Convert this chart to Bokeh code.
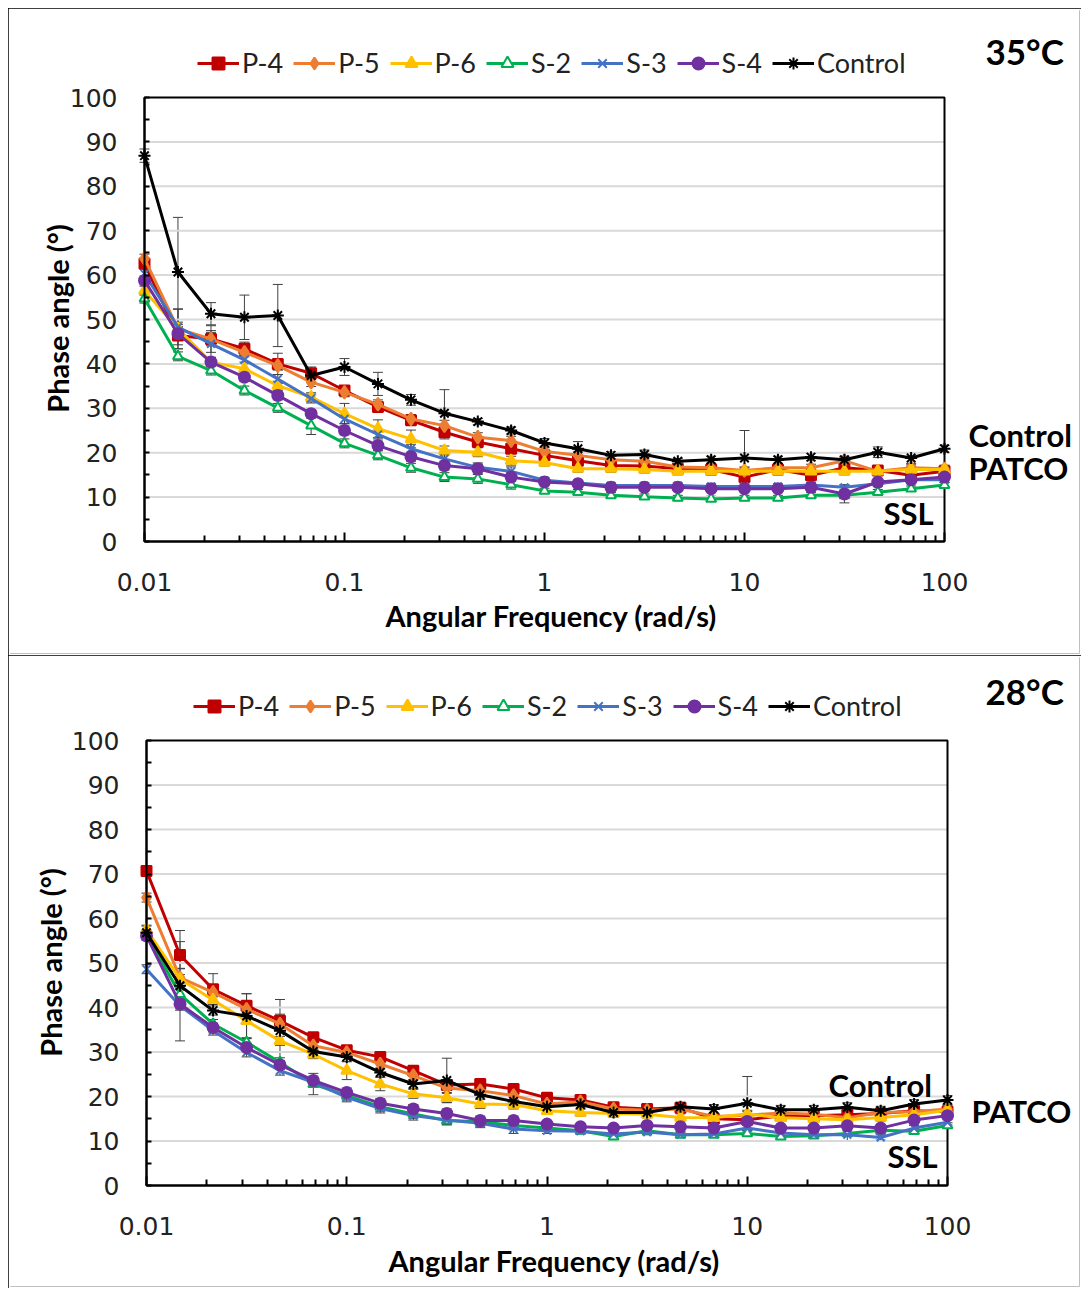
import math
from bokeh.plotting import figure
from bokeh.layouts import column
from bokeh.models import (Range1d, FixedTicker, CustomJSTickFormatter, Legend, LegendItem,
                          Label, Whisker, ColumnDataSource, TeeHead)
from bokeh.embed import file_html
from bokeh.resources import INLINE

# ---------------- data ----------------
freq = [0.01, 0.0147, 0.0215, 0.0316, 0.0464, 0.0681, 0.1, 0.147, 0.215, 0.316, 0.464, 0.681,
        1.0, 1.47, 2.15, 3.16, 4.64, 6.81, 10.0, 14.7, 21.5, 31.6, 46.4, 68.1, 100.0]

series_names = ["P-4", "P-5", "P-6", "S-2", "S-3", "S-4", "Control"]

# 35 C
t35_p4 = [62.6, 46.4, 45.6, 43.4, 40.0, 37.9, 34.0, 30.3, 27.3, 24.6, 22.4, 20.9, 19.4, 18.2, 17.1, 17.0, 16.4, 16.2, 14.5, 16.2, 14.9, 16.6, 16.0, 14.9, 15.8]
t35_p5 = [63.7, 47.9, 45.6, 42.6, 39.6, 35.9, 33.6, 30.9, 27.6, 26.1, 23.5, 22.7, 20.3, 19.4, 18.4, 18.1, 16.8, 16.6, 16.0, 16.6, 16.6, 18.2, 15.8, 16.6, 16.4]
t35_p6 = [56.5, 47.9, 40.4, 38.9, 35.1, 32.5, 28.8, 25.4, 23.1, 20.5, 20.1, 18.2, 17.8, 16.4, 16.4, 16.2, 15.8, 15.8, 15.8, 15.8, 15.8, 15.8, 15.8, 16.2, 16.2]
t35_s2 = [54.7, 41.7, 38.5, 34.0, 30.1, 26.1, 22.1, 19.4, 16.6, 14.5, 14.1, 12.8, 11.4, 11.1, 10.4, 10.1, 9.8, 9.6, 9.8, 9.8, 10.4, 10.4, 11.1, 11.9, 12.7]
t35_s3 = [60.3, 48.3, 44.5, 40.9, 36.6, 32.2, 27.6, 24.1, 20.9, 18.6, 16.7, 15.8, 13.8, 13.2, 12.6, 12.6, 12.6, 12.4, 12.4, 12.4, 12.7, 12.2, 13.0, 13.9, 13.9]
t35_s4 = [58.8, 46.8, 40.4, 37.0, 32.9, 28.8, 25.0, 21.6, 19.1, 17.1, 16.4, 14.5, 13.4, 13.0, 12.2, 12.2, 12.2, 11.9, 11.9, 11.9, 12.2, 10.7, 13.4, 13.9, 14.5]
t35_ctl = [86.9, 60.7, 51.3, 50.5, 50.9, 37.4, 39.3, 35.5, 31.9, 28.9, 27.0, 25.0, 22.2, 20.9, 19.4, 19.6, 18.1, 18.4, 18.8, 18.4, 19.0, 18.4, 20.1, 18.8, 20.9]

e35_p4 = [1.0, 3.0, 1.5, 1.5, 2.4, 1.4, 1.0, 1.0, 1.0, 1.5, 1.0, 1.0, 0.8, 0.8, 0.8, 0.8, 0.8, 0.8, 0.8, 0.8, 0.8, 0.8, 0.8, 0.8, 0.8]
e35_p5 = [1.0, 4.5, 3.0, 1.0, 1.0, 1.0, 1.0, 1.0, 1.0, 1.2, 1.0, 1.0, 0.8, 0.8, 0.8, 0.8, 0.8, 0.8, 0.8, 0.8, 0.8, 0.8, 0.8, 0.8, 0.8]
e35_p6 = [1.0, 1.0, 1.0, 1.5, 1.0, 1.0, 2.3, 2.0, 2.0, 1.0, 1.0, 1.0, 0.8, 0.8, 0.8, 0.8, 0.8, 0.8, 0.8, 0.8, 0.8, 0.8, 0.8, 0.8, 0.8]
e35_s2 = [1.0, 1.0, 1.0, 1.0, 1.0, 2.0, 1.0, 1.0, 1.0, 1.0, 1.0, 1.0, 0.6, 0.6, 0.6, 0.6, 0.6, 0.6, 0.6, 0.6, 0.6, 0.6, 0.6, 0.6, 0.6]
e35_s3 = [1.0, 4.0, 3.0, 1.0, 1.0, 1.0, 1.0, 1.0, 1.0, 1.0, 1.0, 1.0, 0.6, 0.6, 0.6, 0.6, 0.6, 0.6, 0.6, 0.6, 0.6, 0.6, 0.6, 0.6, 0.6]
e35_s4 = [1.0, 1.5, 1.0, 1.0, 1.0, 1.0, 1.0, 1.0, 1.0, 1.0, 1.0, 1.0, 0.6, 0.6, 0.6, 0.6, 0.6, 0.6, 0.6, 0.6, 0.6, 2.0, 0.6, 0.6, 0.6]
e35_ctl = [1.5, 12.3, 2.5, 5.0, 7.0, 1.5, 1.9, 2.6, 1.2, 5.3, 0.7, 0.8, 1.0, 1.6, 0.8, 1.0, 0.6, 0.8, 6.2, 0.8, 0.8, 0.8, 1.2, 1.2, 0.8]

# 28 C
t28_p4 = [70.7, 51.8, 44.1, 40.4, 37.0, 33.3, 30.4, 28.9, 25.8, 22.6, 22.8, 21.7, 19.7, 19.2, 17.6, 17.2, 17.5, 15.0, 14.8, 15.6, 15.7, 15.9, 16.2, 16.8, 16.6]
t28_p5 = [64.7, 46.7, 43.4, 39.6, 36.3, 31.4, 29.9, 27.3, 24.7, 21.9, 21.3, 20.2, 18.3, 18.8, 17.2, 16.9, 17.2, 15.5, 15.8, 16.3, 16.0, 15.2, 16.4, 16.6, 17.2]
t28_p6 = [57.5, 46.4, 41.7, 37.0, 32.5, 29.5, 25.8, 22.8, 20.6, 19.7, 18.3, 18.2, 16.8, 16.4, 16.2, 16.0, 15.3, 15.2, 16.1, 15.2, 15.0, 14.8, 15.3, 15.9, 16.9]
t28_s2 = [56.3, 43.0, 36.3, 32.2, 27.7, 22.8, 20.2, 17.7, 16.1, 14.6, 14.3, 13.5, 12.9, 12.3, 11.0, 12.3, 11.4, 11.4, 11.7, 11.0, 11.2, 11.7, 12.4, 12.2, 13.5]
t28_s3 = [48.6, 40.4, 34.8, 29.9, 25.8, 23.2, 19.8, 17.3, 15.7, 14.7, 14.0, 12.7, 12.3, 12.2, 11.6, 12.0, 11.4, 11.6, 12.9, 11.8, 11.4, 11.4, 10.8, 12.9, 14.2]
t28_s4 = [56.1, 40.8, 35.5, 31.0, 27.1, 23.6, 20.9, 18.5, 17.2, 16.2, 14.6, 14.6, 13.8, 13.2, 12.9, 13.5, 13.2, 12.9, 14.4, 12.9, 12.9, 13.4, 12.9, 14.7, 15.7]
t28_ctl = [56.8, 44.9, 39.3, 38.1, 34.8, 30.1, 28.9, 25.4, 22.8, 23.6, 20.4, 18.9, 17.7, 18.2, 16.4, 16.4, 17.7, 17.2, 18.5, 17.0, 17.0, 17.6, 16.8, 18.3, 19.2]

e28_p4 = [1.0, 3.0, 3.5, 2.7, 1.5, 1.0, 1.0, 1.0, 1.0, 1.0, 1.0, 1.0, 0.8, 0.8, 0.8, 0.8, 0.8, 0.8, 0.8, 0.8, 0.8, 0.8, 0.8, 0.8, 0.8]
e28_p5 = [1.0, 2.0, 1.0, 1.0, 1.0, 1.0, 1.0, 1.0, 1.0, 1.0, 1.0, 1.0, 0.8, 0.8, 0.8, 0.8, 0.8, 0.8, 0.8, 0.8, 0.8, 0.8, 0.8, 0.8, 0.8]
e28_p6 = [1.0, 1.0, 1.0, 4.0, 1.0, 1.0, 2.0, 1.5, 1.0, 1.0, 1.0, 1.0, 0.8, 0.8, 0.8, 0.8, 0.8, 0.8, 0.8, 0.8, 0.8, 0.8, 0.8, 0.8, 0.8]
e28_s2 = [1.0, 1.0, 1.0, 1.0, 1.0, 2.4, 1.0, 1.0, 1.0, 1.0, 1.0, 1.0, 0.6, 0.6, 0.6, 0.6, 0.6, 0.6, 0.6, 0.6, 0.6, 0.6, 0.6, 0.6, 0.6]
e28_s3 = [1.0, 1.0, 1.0, 1.0, 1.0, 1.0, 1.0, 1.0, 1.0, 1.0, 1.0, 1.0, 0.6, 0.6, 0.6, 0.6, 0.6, 0.6, 0.6, 0.6, 0.6, 1.5, 0.6, 0.6, 0.6]
e28_s4 = [1.0, 1.0, 1.0, 1.0, 1.0, 1.0, 1.0, 1.0, 1.0, 1.0, 1.0, 1.0, 0.6, 0.6, 0.6, 0.6, 0.6, 0.6, 0.6, 0.6, 0.6, 0.6, 0.6, 0.6, 0.6]
e28_ctl = [1.5, 12.4, 1.0, 5.0, 7.0, 1.0, 1.0, 1.0, 1.0, 5.0, 1.0, 1.0, 1.0, 1.0, 1.0, 1.0, 1.0, 1.0, 6.0, 1.0, 1.0, 1.0, 1.0, 1.0, 1.0]

x_major = [0.01, 0.1, 1, 10, 100]
y_major = [0, 10, 20, 30, 40, 50, 60, 70, 80, 90, 100]
y_minor = [5, 15, 25, 35, 45, 55, 65, 75, 85, 95]
x_minor = [m * d for d in (0.01, 0.1, 1, 10) for m in range(2, 10)]

X_LO, X_HI = 0.01, 100.0
Y_LO, Y_HI = 0.0, 100.0

x_title = "Angular Frequency (rad/s)"
y_title = "Phase angle (°)"

colors = ["#C00000", "#ED7D31", "#FFC000", "#00B050", "#4472C4", "#7030A0", "#000000"]
markers = ["square", "diamond", "triangle", "triangle", "x", "circle", "asterisk"]
msizes = [10, 13, 11, 10, 11, 11, 12]
fills = ["#C00000", "#ED7D31", "#FFC000", "white", "#4472C4", "#7030A0", "#000000"]

LABEL_FONT = "Lato"
TICK_FONT = "DejaVu Sans"
FIG_W = 1073
PAD = 2


def make_panel(vals, errs, title, geo, height, margin):
    # geo: page-pixel layout of the panel
    ox, oy = geo["origin"]
    x0px, dec = geo["x_anchor"], geo["px_per_decade"]
    y0px, ppu = geo["y_anchor"], geo["px_per_unit"]
    fl, fr = ox + PAD, ox + FIG_W - PAD
    ft, fb = oy + PAD, oy + height - PAD

    def X(px):
        return 10 ** (-2 + (px - x0px) / dec)

    def Y(py):
        return (y0px - py) / ppu

    p = figure(width=FIG_W, height=height, x_axis_type="log",
               x_range=Range1d(X(fl), X(fr)), y_range=Range1d(Y(fb), Y(ft)),
               output_backend="svg", toolbar_location=None,
               min_border_left=PAD, min_border_right=PAD, min_border_top=PAD, min_border_bottom=PAD,
               background_fill_color="white", border_fill_color="white", margin=margin,
               styles={"outline": "2px solid black", "outline-offset": "-2px"})
    p.outline_line_color = None

    p.xaxis.ticker = FixedTicker(ticks=x_major, minor_ticks=x_minor)
    p.xaxis.formatter = CustomJSTickFormatter(code="return String(parseFloat(tick.toPrecision(6)));")
    p.yaxis.ticker = FixedTicker(ticks=y_major, minor_ticks=y_minor)
    p.xaxis.bounds = (X_LO, X_HI)
    p.yaxis.bounds = (Y_LO, Y_HI)
    p.xaxis.fixed_location = Y_LO
    p.yaxis.fixed_location = X_LO

    for ax in (p.xaxis[0], p.yaxis[0]):
        ax.axis_line_color = "black"
        ax.axis_line_width = 2
        ax.major_tick_line_color = "black"
        ax.minor_tick_line_color = "black"
        ax.major_tick_line_width = 2
        ax.minor_tick_line_width = 2
        ax.major_tick_out = 0
        ax.minor_tick_out = 0
        ax.major_label_text_font = TICK_FONT
        ax.major_label_text_font_size = "25px"
        ax.major_label_text_color = "#222222"
    p.xaxis.major_tick_in = 9
    p.xaxis.minor_tick_in = 6
    p.yaxis.major_tick_in = 5
    p.yaxis.minor_tick_in = 5
    p.xaxis.major_label_standoff = 31
    p.yaxis.major_label_standoff = 27

    p.xgrid.visible = False
    p.ygrid.visible = False
    gy = y_major[1:-1]
    p.segment(x0=[X_LO] * len(gy), x1=[X_HI] * len(gy), y0=gy, y1=gy,
              line_color="#D9D9D9", line_width=2)
    p.quad(left=[X_LO], right=[X_HI], bottom=[Y_LO], top=[Y_HI], fill_color=None,
           line_color="black", line_width=2)

    items = []
    for name, v, e, c, m, s, f in zip(series_names, vals, errs, colors, markers, msizes, fills):
        src = ColumnDataSource(dict(x=freq, y=v,
                                    upper=[a + b for a, b in zip(v, e)],
                                    lower=[a - b for a, b in zip(v, e)]))
        w = Whisker(base="x", upper="upper", lower="lower", source=src, dimension="height",
                    line_color="#404040", line_width=1,
                    upper_head=TeeHead(size=10, line_color="#404040", line_width=1),
                    lower_head=TeeHead(size=10, line_color="#404040", line_width=1))
        p.add_layout(w)
        r1 = p.line("x", "y", source=src, line_color=c, line_width=3)
        r2 = p.scatter("x", "y", source=src, marker=m, size=s, fill_color=f, line_color=c, line_width=2)
        items.append(LegendItem(label=name, renderers=[r1, r2]))

    lx, lb = geo["legend_left_bottom"]
    leg = Legend(items=items, orientation="horizontal", location=(lx - fl, fb - lb),
                 border_line_color=None, background_fill_alpha=0, padding=0, margin=0,
                 spacing=10, glyph_width=42, glyph_height=30, label_height=30,
                 label_standoff=3, label_text_font=LABEL_FONT, label_text_font_size="27px",
                 label_text_color="#222222")
    p.add_layout(leg)

    def lab(txt, px, py, size, align="left", angle=0.0):
        p.add_layout(Label(x=X(px), y=Y(py), text=txt, text_font=LABEL_FONT, text_font_style="bold",
                           text_font_size=size, text_baseline="middle", text_align=align,
                           angle=angle, text_color="black"))

    tpx, tpy = geo["title"]
    lab(title, tpx, tpy, "35px")
    for txt, (px, py) in geo["notes"]:
        lab(txt, px, py, "31px")
    xtx, xty = geo["x_title"]
    lab(x_title, xtx, xty, "29px", align="center")
    ytx, yty = geo["y_title"]
    lab(y_title, ytx, yty, "29px", align="center", angle=math.pi / 2)
    return p


vals35 = [t35_p4, t35_p5, t35_p6, t35_s2, t35_s3, t35_s4, t35_ctl]
errs35 = [e35_p4, e35_p5, e35_p6, e35_s2, e35_s3, e35_s4, e35_ctl]
vals28 = [t28_p4, t28_p5, t28_p6, t28_s2, t28_s3, t28_s4, t28_ctl]
errs28 = [e28_p4, e28_p5, e28_p6, e28_s2, e28_s3, e28_s4, e28_ctl]

geo35 = dict(origin=(8, 8), x_anchor=144, px_per_decade=200.0, y_anchor=541, px_per_unit=4.44,
             legend_left_bottom=(197, 79), title=(985, 50),
             notes=[("Control", (968, 434)), ("PATCO", (968, 467)), ("SSL", (883, 512))],
             x_title=(551, 615), y_title=(57, 318))
geo28 = dict(origin=(8, 655), x_anchor=146, px_per_decade=200.25, y_anchor=1185, px_per_unit=4.45,
             legend_left_bottom=(193, 722), title=(985, 690),
             notes=[("Control", (828, 1084)), ("PATCO", (971, 1110)), ("SSL", (887, 1155))],
             x_title=(554, 1260), y_title=(50, 962))

p1 = make_panel(vals35, errs35, "35°C", geo35, 647, (8, 0, 0, 8))
p2 = make_panel(vals28, errs28, "28°C", geo28, 633, (0, 0, 0, 8))

layout = column(p1, p2, spacing=0)
open("out.html", "w").write(file_html(layout, INLINE))
